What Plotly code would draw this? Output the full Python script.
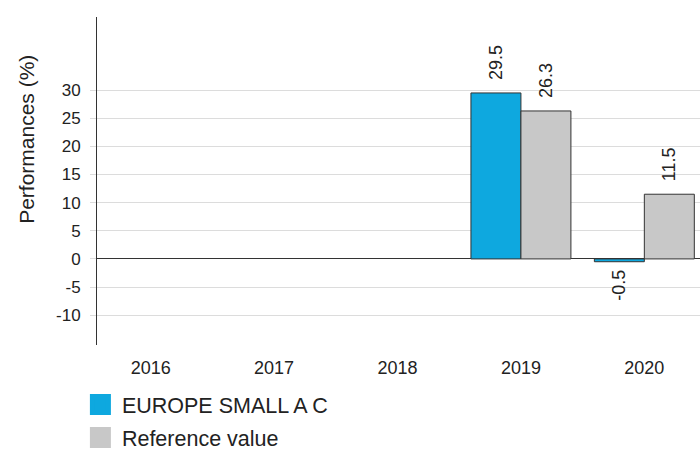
import plotly.graph_objects as go

years = ["2016", "2017", "2018", "2019", "2020"]
fund_name = "EUROPE SMALL A C"
fund_values = [None, None, None, 29.5, -0.5]
ref_name = "Reference value"
ref_values = [None, None, None, 26.3, 11.5]
y_ticks = [-10, -5, 0, 5, 10, 15, 20, 25, 30]

BLUE = "#0ea8df"
GRAY = "#c8c8c8"
OUTLINE = "#333333"
FONT = "Liberation Sans, Arial, sans-serif"
NB = "\u00a0"


def labels(vals):
    out = []
    for v in vals:
        if v is None:
            out.append("")
        elif v >= 0:
            out.append(NB * 2 + f"{v:.1f}")
        else:
            out.append(f"{v:.1f}" + NB)
    return out


fig = go.Figure()
fig.add_trace(go.Bar(
    x=years, y=fund_values, name=fund_name, showlegend=False,
    marker=dict(color=BLUE, line=dict(color=OUTLINE, width=1)),
    text=labels(fund_values), textposition="outside", textangle=-90,
    textfont=dict(size=18, color="#222222", family=FONT), cliponaxis=False,
))
fig.add_trace(go.Bar(
    x=years, y=ref_values, name=ref_name, showlegend=False,
    marker=dict(color=GRAY, line=dict(color=OUTLINE, width=1)),
    text=labels(ref_values), textposition="outside", textangle=-90,
    textfont=dict(size=18, color="#222222", family=FONT), cliponaxis=False,
))
# legend entries with large square swatches
for i, (nm, col) in enumerate([(fund_name, BLUE), (ref_name, GRAY)]):
    fig.add_trace(go.Scatter(
        x=[None], y=[None], mode="markers", name=nm, legendgroup=f"g{i}",
        marker=dict(symbol="square", size=22, color=col, line=dict(width=5, color=col)),
    ))

fig.update_layout(
    width=700, height=451,
    margin=dict(l=97, r=0, t=17, b=106, autoexpand=False),
    paper_bgcolor="white", plot_bgcolor="white",
    font=dict(family=FONT, size=17, color="#222222"),
    barmode="group", bargap=0.19, bargroupgap=0,
    showlegend=True,
    legend=dict(
        orientation="v", x=-0.03, y=-0.119, xanchor="left", yanchor="top",
        font=dict(size=21.5, family=FONT, color="#222222"),
        itemsizing="trace", itemwidth=33, traceorder="grouped", tracegroupgap=2,
        bgcolor="rgba(0,0,0,0)",
    ),
    annotations=[dict(
        text="Performances (%)", textangle=-90, showarrow=False,
        xref="paper", yref="paper", x=-0.118, y=0.628,
        xanchor="center", yanchor="middle",
        font=dict(size=21, family=FONT, color="#222222"),
    )],
)
fig.update_xaxes(
    type="category", range=[-0.435, 4.451], showgrid=False, showline=False,
    ticks="", ticklabelstandoff=10, tickfont=dict(size=18),
    zeroline=False,
)
fig.update_yaxes(
    range=[-15.3, 43], tickvals=y_ticks, ticktext=[str(t) for t in y_ticks],
    showgrid=True, gridcolor="#dcdcdc",
    gridwidth=1, zeroline=True, zerolinecolor=OUTLINE, zerolinewidth=1,
    showline=True, linecolor=OUTLINE, linewidth=1,
    ticks="outside", ticklen=6, tickcolor="#dcdcdc", ticklabelstandoff=6,
    tickfont=dict(size=17),
)

fig.write_html(
    "out.html",
    config={"displayModeBar": False},
    post_script="document.body.style.margin='0';document.body.style.overflow='hidden';",
)
